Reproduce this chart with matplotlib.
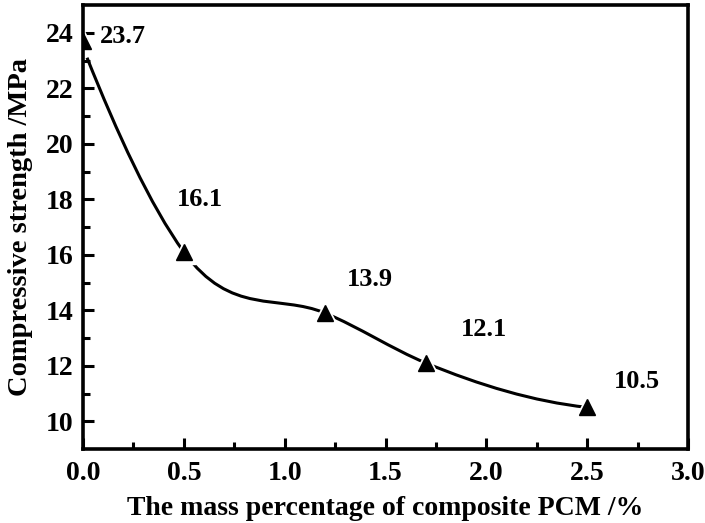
import numpy as np
import matplotlib
matplotlib.use("Agg")
import matplotlib.pyplot as plt
from matplotlib.path import Path
from matplotlib.patches import PathPatch

x_pcm = [0.0, 0.5, 1.2, 1.7, 2.5]
strength = [23.7, 16.1, 13.9, 12.1, 10.5]
# smoothed line as drawn in the figure (start point and local slopes)
curve_y = [23.1, 16.1, 13.9, 12.1, 10.5]
curve_slopes = [-16.0, -10.0, -3.0, -3.0, -0.8]
value_labels = ["23.7", "16.1", "13.9", "12.1", "10.5"]
label_pos_x = [0.2, 0.58, 1.425, 1.99, 2.745]
label_pos_y = [23.85, 18.0, 15.1, 13.3, 11.45]

plt.rcParams['font.family'] = ['Liberation Serif', 'DejaVu Serif']
plt.rcParams['font.weight'] = 'bold'

fig = plt.figure(figsize=(7.05, 5.23), dpi=100)
ax = fig.add_axes([83/705, 1 - 449/523, (688-83)/705, (449-5)/523])

# cubic Hermite curve as Bezier path
verts = [(x_pcm[0] + 0.02, curve_y[0])]
codes = [Path.MOVETO]
for i in range(len(x_pcm) - 1):
    x0, x1 = x_pcm[i], x_pcm[i+1]
    y0, y1 = curve_y[i], curve_y[i+1]
    h = x1 - x0
    m0, m1 = curve_slopes[i], curve_slopes[i+1]
    verts += [(x0 + h/3, y0 + m0*h/3), (x1 - h/3, y1 - m1*h/3), (x1, y1)]
    codes += [Path.CURVE4]*3
ax.add_patch(PathPatch(Path(verts, codes), fill=False, lw=2.2, ec='black', zorder=2))

# white halo (line gap) then black triangles
ax.plot(x_pcm, strength, linestyle='none', marker='^', ms=17, color='white',
        zorder=3)
ax.plot(x_pcm, strength, linestyle='none', marker='^', ms=12, color='black',
        zorder=4)

for tx, ty, t in zip(label_pos_x, label_pos_y, value_labels):
    ax.text(tx, ty, t, ha='center', va='center', fontsize=19, fontweight='bold')

ax.set_xlim(0, 3.0)
ax.set_ylim(9, 25)
ax.set_xticks([0.0, 0.5, 1.0, 1.5, 2.0, 2.5, 3.0])
ax.set_xticks(np.arange(0.25, 3.0, 0.5), minor=True)
ax.set_yticks([10, 12, 14, 16, 18, 20, 22, 24])
ax.set_yticks([11, 13, 15, 17, 19, 21, 23], minor=True)
ax.set_xticklabels(["0.0", "0.5", "1.0", "1.5", "2.0", "2.5", "3.0"])
ax.tick_params(which='both', direction='in', width=2.2, labelsize=20)
ax.tick_params(which='major', length=8)
ax.tick_params(which='minor', length=5)
ax.tick_params(axis='x', pad=9)
ax.tick_params(axis='y', pad=7)
for s in ax.spines.values():
    s.set_linewidth(2.6)
    s.set_zorder(5)
ax.set_xlabel("The mass percentage of composite PCM /%", fontsize=20,
              fontweight='bold', labelpad=7)
ax.set_ylabel("Compressive strength /MPa", fontsize=20.5, fontweight='bold',
              labelpad=9)

fig.savefig("out.png", dpi=100)
